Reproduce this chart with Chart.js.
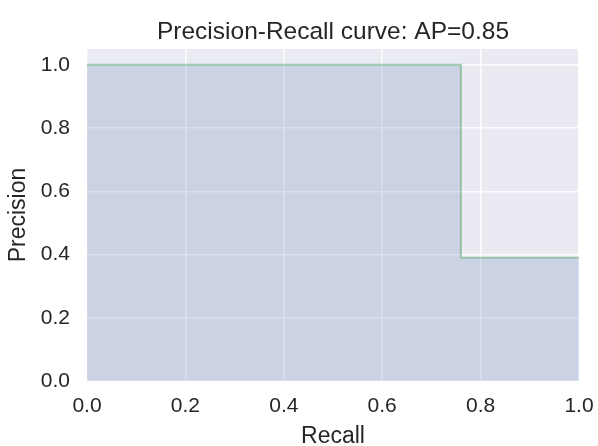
<!DOCTYPE html>
<html>
<head>
<meta charset="utf-8">
<script src="https://cdn.jsdelivr.net/npm/chart.js@4/dist/chart.umd.min.js"></script>
<style>
  html, body { margin: 0; padding: 0; background: #ffffff; }
  #wrap { width: 598px; height: 446px; }
</style>
</head>
<body>
<div id="wrap"><canvas id="prChart" width="598" height="446"></canvas></div>
<script>
// values
const recall = [0.0, 0.76, 1.0];
const precision = [1.0, 0.39, 0.39];
const xTicks = [0.0, 0.2, 0.4, 0.6, 0.8, 1.0];
const yTicks = [0.0, 0.2, 0.4, 0.6, 0.8, 1.0];
const titleText = "Precision-Recall curve: AP=0.85";

const FONT = "'Liberation Sans', Arial, sans-serif";
const TEXT = "#262626";

// seaborn-like grey plot area + title centred over the axes
const plotBackground = {
  id: "plotBackground",
  beforeDraw(chart) {
    const { ctx, chartArea: a } = chart;
    ctx.save();
    ctx.fillStyle = "#eaeaf2";
    ctx.fillRect(a.left, a.top, a.right - a.left, a.bottom - a.top);
    ctx.restore();
  },
  afterDraw(chart) {
    const { ctx, chartArea: a } = chart;
    ctx.save();
    ctx.fillStyle = TEXT;
    ctx.font = "24.5px " + FONT;
    ctx.textAlign = "center";
    ctx.textBaseline = "alphabetic";
    ctx.fillText(titleText, (a.left + a.right) / 2, 39);
    ctx.restore();
  },
};

const ctx = document.getElementById("prChart").getContext("2d");
new Chart(ctx, {
  type: "line",
  data: {
    datasets: [
      {
        data: recall.map((r, i) => ({ x: r, y: precision[i] })),
        stepped: "before",
        borderColor: "rgba(100, 170, 120, 0.55)",
        borderWidth: 2,
        backgroundColor: "rgba(76, 114, 176, 0.2)",
        fill: "origin",
        pointRadius: 0,
        tension: 0,
      },
    ],
  },
  options: {
    responsive: false,
    animation: false,
    layout: { padding: { left: 0, right: 19, top: 49, bottom: 0 } },
    plugins: {
      legend: { display: false },
      tooltip: { enabled: false },
      title: { display: false },
    },
    scales: {
      x: {
        type: "linear",
        min: 0,
        max: 1,
        afterBuildTicks: (scale) => {
          scale.ticks = xTicks.map((v) => ({ value: v }));
        },
        afterFit: (scale) => {
          scale.height = 65;
          scale.paddingLeft = 0;
          scale.paddingRight = 0;
        },
        ticks: {
          color: TEXT,
          font: { family: FONT, size: 21 },
          padding: 13,
          maxRotation: 0,
          callback: (v) => Number(v).toFixed(1),
        },
        grid: { color: "rgba(255,255,255,0.9)", lineWidth: 1.5, drawTicks: false },
        border: { display: false },
        title: {
          display: true,
          text: "Recall",
          color: TEXT,
          font: { family: FONT, size: 23, lineHeight: 0.85 },
          padding: { top: 0, bottom: 0 },
        },
      },
      y: {
        type: "linear",
        min: 0,
        max: 1.05,
        afterBuildTicks: (scale) => {
          scale.ticks = yTicks.map((v) => ({ value: v }));
        },
        afterFit: (scale) => {
          scale.width = 87;
        },
        ticks: {
          color: TEXT,
          font: { family: FONT, size: 21 },
          padding: 17,
          callback: (v) => Number(v).toFixed(1),
        },
        grid: { color: "rgba(255,255,255,0.9)", lineWidth: 1.5, drawTicks: false },
        border: { display: false },
        title: {
          display: true,
          text: "Precision",
          color: TEXT,
          font: { family: FONT, size: 23, lineHeight: 1.0 },
          padding: { top: 7, bottom: 0 },
        },
      },
    },
  },
  plugins: [plotBackground],
});
</script>
</body>
</html>
